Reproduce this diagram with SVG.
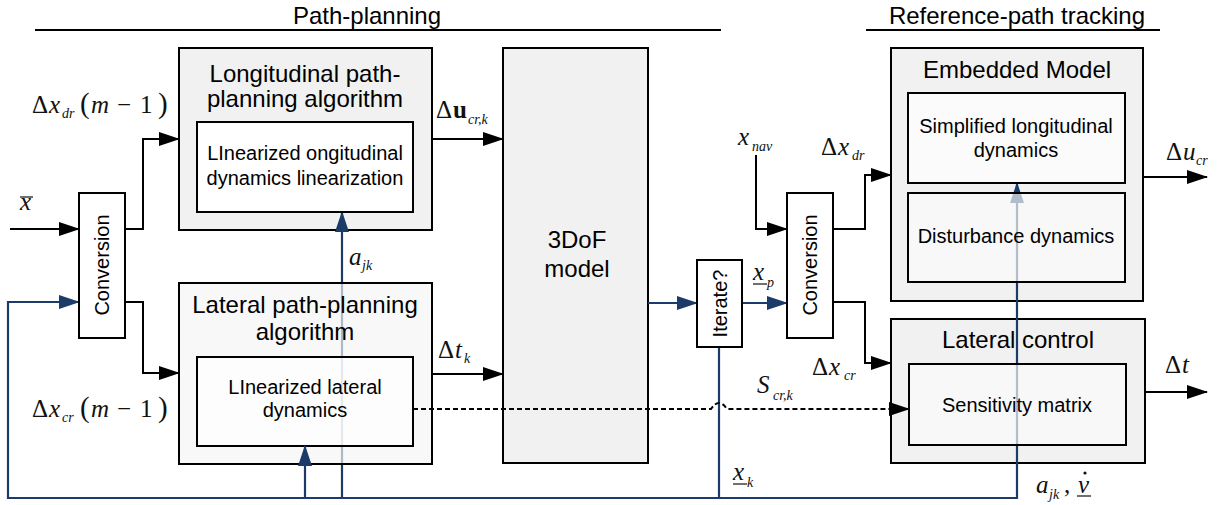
<svg xmlns="http://www.w3.org/2000/svg" width="1228" height="505" viewBox="0 0 1228 505">
<defs>
<marker id="ak" markerUnits="userSpaceOnUse" markerWidth="21" markerHeight="14" refX="20" refY="7" orient="auto"><path d="M0,0 L21,7 L0,14 z" fill="#000"/></marker>
<marker id="ab" markerUnits="userSpaceOnUse" markerWidth="21" markerHeight="14" refX="20" refY="7" orient="auto"><path d="M0,0 L21,7 L0,14 z" fill="#1b3b68"/></marker>
<style>
.box{stroke:#000;stroke-width:2}
.outer{fill:#f1f1f1}
.semi{fill:#ffffff;fill-opacity:0.68}
.semig{fill:#fafafa;fill-opacity:0.68}
.t{font-family:"Liberation Sans",Arial,sans-serif;fill:#000;text-anchor:middle}
.t24{font-size:24px}
.t20{font-size:20px}
.k{fill:none;stroke:#000;stroke-width:2}
.b{fill:none;stroke:#1b3b68;stroke-width:2.2}
.m{font-family:"Liberation Serif","Times New Roman",serif;font-size:25px;fill:#111}
.i{font-style:italic}
.s{font-size:14px;font-style:italic}
</style>
</defs>
<rect width="1228" height="505" fill="#fff"/>

<g id="headers">
<text class="t t24" x="367" y="24">Path-planning</text>
<line x1="35" y1="30" x2="721" y2="30" stroke="#000" stroke-width="2"/>
<text class="t t24" x="1017" y="24">Reference-path tracking</text>
<line x1="866" y1="30" x2="1160" y2="30" stroke="#000" stroke-width="2"/>
</g>

<g id="longitudinal-outer"><rect class="box outer" x="179" y="48" width="253" height="182"/></g>
<g id="model-3dof"><rect class="box outer" x="503" y="48" width="145" height="415"/>
<text class="t t24" x="577" y="248">3DoF</text><text class="t t24" x="577" y="277">model</text></g>
<g id="embedded-outer"><rect class="box outer" x="891" y="48" width="252" height="253"/></g>
<g id="lateral-control-outer"><rect class="box outer" x="891" y="319" width="254" height="144"/></g>

<g id="connectors">
<path class="k" d="M10 229 H79" marker-end="url(#ak)"/>
<path class="k" d="M125 229 H143 V139 H179" marker-end="url(#ak)"/>
<path class="k" d="M125 302 H143 V373 H179" marker-end="url(#ak)"/>
<path class="k" d="M432 139 H503" marker-end="url(#ak)"/>
<path class="k" d="M432 374 H503" marker-end="url(#ak)"/>
<path class="k" d="M756 155 V229 H787" marker-end="url(#ak)"/>
<path class="k" d="M833 229 H865 V175 H891" marker-end="url(#ak)"/>
<path class="k" d="M833 302 H865 V363 H891" marker-end="url(#ak)"/>
<path class="k" d="M1143 177 H1207" marker-end="url(#ak)"/>
<path class="k" d="M1145 392 H1207" marker-end="url(#ak)"/>
<path class="b" d="M719 498 H8 V302 H79" marker-end="url(#ab)"/>
<path class="b" d="M648 303 H697" marker-end="url(#ab)"/>
<path class="b" d="M742 303 H787" marker-end="url(#ab)"/>
<path class="b" d="M719 347 V498"/>
<path class="b" d="M719 498 H1017 V183" marker-end="url(#ab)"/>
<path class="b" d="M342 498 V212" marker-end="url(#ab)"/>
</g>

<g id="longitudinal-inner"><rect class="box" fill="#fff" x="197" y="122" width="216" height="90"/>
<text class="t t24" x="305" y="82">Longitudinal path-</text>
<text class="t t24" x="305" y="107">planning algorithm</text>
<text class="t t20" x="305" y="160">LInearized ongitudinal</text>
<text class="t t20" x="305" y="185">dynamics linearization</text></g>

<g id="lateral-planning"><rect class="box" fill="#f5f5f5" fill-opacity="0.68" x="179" y="283" width="253" height="181"/>
<text class="t t24" x="305" y="313">Lateral path-planning</text>
<text class="t t24" x="305" y="340">algorithm</text>
<rect class="box semi" x="197" y="357" width="216" height="89"/>
<text class="t t20" x="305" y="394">LInearized lateral</text>
<text class="t t20" x="305" y="417">dynamics</text></g>

<g id="conversion-1"><rect class="box" fill="#fff" x="79" y="193" width="46" height="145"/>
<text class="t t20" transform="translate(102,265) rotate(-90)" y="7">Conversion</text></g>
<g id="iterate"><rect class="box" fill="#fff" x="697" y="260" width="45" height="87"/>
<text class="t t20" transform="translate(719.5,303.5) rotate(-90)" y="7">Iterate?</text></g>
<g id="conversion-2"><rect class="box" fill="#fff" x="787" y="193" width="46" height="145"/>
<text class="t t20" transform="translate(810,265) rotate(-90)" y="7">Conversion</text></g>

<g id="embedded-model">
<text class="t t24" x="1017" y="78">Embedded Model</text>
<rect class="box semi" x="908" y="93" width="217" height="90"/>
<text class="t t20" x="1016" y="133">Simplified longitudinal</text>
<text class="t t20" x="1016" y="157">dynamics</text>
<rect class="box semig" x="908" y="193" width="217" height="89"/>
<text class="t t20" x="1016" y="243">Disturbance dynamics</text></g>

<g id="lateral-control">
<text class="t t24" x="1018" y="348">Lateral control</text>
<rect class="box semig" x="909" y="364" width="217" height="81"/>
<text class="t t20" x="1017" y="412">Sensitivity matrix</text></g>

<g id="connectors-front">
<path class="b" d="M305 498 V446" marker-end="url(#ab)"/>
<path class="k" d="M413 409 H711 Q719 397 727 409 H909" stroke-dasharray="5 3" marker-end="url(#ak)"/>
</g>

<g id="labels">
<text class="m i" x="20" y="210">x</text><line x1="20" y1="197" x2="33" y2="197" stroke="#111" stroke-width="1.2"/>
<text class="m" y="113"><tspan x="32">Δ</tspan><tspan x="49" class="i">x</tspan><tspan x="62" dy="5" class="s">dr</tspan><tspan x="80" dy="-5" font-size="29">(</tspan><tspan x="91" class="i">m</tspan><tspan x="117">−</tspan><tspan x="140">1</tspan><tspan x="158" font-size="29">)</tspan></text>
<text class="m" y="417"><tspan x="32">Δ</tspan><tspan x="49" class="i">x</tspan><tspan x="62" dy="5" class="s">cr</tspan><tspan x="80" dy="-5" font-size="29">(</tspan><tspan x="91" class="i">m</tspan><tspan x="117">−</tspan><tspan x="140">1</tspan><tspan x="158" font-size="29">)</tspan></text>
<text class="m" y="118"><tspan x="436">Δ</tspan><tspan x="453" font-weight="bold">u</tspan><tspan x="468" dy="6" class="s">cr,k</tspan></text>
<text class="m" y="358"><tspan x="438">Δ</tspan><tspan x="455" class="i">t</tspan><tspan x="464" dy="5" class="s">k</tspan></text>
<text class="m" y="265"><tspan x="349" class="i">a</tspan><tspan x="362" dy="5" class="s">jk</tspan></text>
<text class="m" y="280"><tspan x="753" class="i">x</tspan><tspan x="767" dy="7" class="s">p</tspan></text><line x1="753" y1="284" x2="767" y2="284" stroke="#111" stroke-width="1.2"/>
<text class="m" y="145"><tspan x="738" class="i">x</tspan><tspan x="752" dy="6" class="s">nav</tspan></text>
<text class="m" y="155"><tspan x="821">Δ</tspan><tspan x="838" class="i">x</tspan><tspan x="852" dy="5" class="s">dr</tspan></text>
<text class="m" y="375"><tspan x="812">Δ</tspan><tspan x="829" class="i">x</tspan><tspan x="844" dy="5" class="s">cr</tspan></text>
<text class="m" y="393"><tspan x="757" class="i">S</tspan><tspan x="773" dy="7" class="s">cr,k</tspan></text>
<text class="m" y="480"><tspan x="733" class="i">x</tspan><tspan x="747" dy="7" class="s">k</tspan></text><line x1="733" y1="484" x2="747" y2="484" stroke="#111" stroke-width="1.2"/>
<text class="m" y="160"><tspan x="1166">Δ</tspan><tspan x="1183" class="i">u</tspan><tspan x="1196" dy="5" class="s">cr</tspan></text>
<text class="m" y="373"><tspan x="1165">Δ</tspan><tspan x="1182" class="i">t</tspan></text>
<text class="m" y="493"><tspan x="1036" class="i">a</tspan><tspan x="1049" dy="6" class="s">jk</tspan><tspan x="1064" dy="-6">,</tspan><tspan x="1078" class="i">v</tspan></text>
<circle cx="1085" cy="473" r="1.6" fill="#111"/><line x1="1077" y1="496" x2="1091" y2="496" stroke="#111" stroke-width="1.2"/>
</g>
</svg>
